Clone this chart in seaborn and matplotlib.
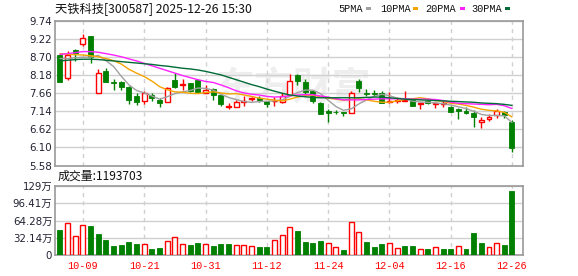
import numpy as np
import pandas as pd
import matplotlib
matplotlib.use("Agg")
import matplotlib.pyplot as plt
import seaborn as sns
from matplotlib.patches import Rectangle

# ---------------- data ----------------
dates = ["09-26", "09-29", "09-30", "10-09", "10-10", "10-13", "10-14", "10-15", "10-16", "10-17",
         "10-20", "10-21", "10-22", "10-23", "10-24", "10-27", "10-28", "10-29", "10-30", "10-31",
         "11-03", "11-04", "11-05", "11-06", "11-07", "11-10", "11-11", "11-12", "11-13", "11-14",
         "11-17", "11-18", "11-19", "11-20", "11-21", "11-24", "11-25", "11-26", "11-27", "11-28",
         "12-01", "12-02", "12-03", "12-04", "12-05", "12-08", "12-09", "12-10", "12-11", "12-12",
         "12-15", "12-16", "12-17", "12-18", "12-19", "12-22", "12-23", "12-24", "12-25", "12-26"]

opens = [8.75, 8.11, 8.90, 9.07, 9.31, 7.68, 8.30, 7.98, 7.99, 7.85,
         7.58, 7.45, 7.61, 7.48, 7.40, 8.04, 7.91, 7.95, 8.04, 7.67,
         7.79, 7.61, 7.27, 7.27, 7.41, 7.49, 7.51, 7.44, 7.43, 7.42,
         7.61, 8.18, 7.99, 7.73, 7.39, 7.16, 7.13, 7.11, 7.10, 8.02,
         7.66, 7.66, 7.68, 7.42, 7.44, 7.44, 7.46, 7.35, 7.44, 7.36,
         7.36, 7.27, 7.21, 7.16, 7.08, 6.83, 6.91, 7.04, 7.11, 6.84]
closes = [7.99, 8.75, 8.82, 9.26, 8.70, 8.23, 7.99, 7.96, 7.85, 7.46,
          7.42, 7.66, 7.53, 7.37, 7.82, 7.85, 7.94, 7.73, 7.70, 7.76,
          7.61, 7.36, 7.29, 7.40, 7.43, 7.51, 7.46, 7.34, 7.45, 7.59,
          8.02, 8.01, 7.70, 7.45, 7.06, 7.08, 7.12, 7.10, 7.67, 7.80,
          7.65, 7.64, 7.39, 7.45, 7.47, 7.46, 7.30, 7.38, 7.37, 7.38,
          7.37, 7.12, 7.14, 7.10, 6.99, 6.89, 6.98, 7.15, 7.02, 6.07]
highs = [8.76, 8.87, 8.94, 9.37, 9.32, 8.37, 8.40, 8.07, 8.00, 7.87,
         7.66, 7.72, 7.66, 7.53, 7.83, 8.25, 8.06, 7.96, 8.07, 7.91,
         7.81, 7.61, 7.39, 7.46, 7.58, 7.56, 7.59, 7.45, 7.56, 7.66,
         8.21, 8.21, 8.06, 7.75, 7.42, 7.20, 7.18, 7.13, 7.73, 8.06,
         7.77, 7.75, 7.73, 7.69, 7.56, 7.73, 7.47, 7.40, 7.46, 7.42,
         7.44, 7.30, 7.23, 7.27, 7.18, 6.99, 7.05, 7.21, 7.15, 6.88]
lows = [7.99, 8.04, 8.58, 9.01, 8.54, 7.68, 7.99, 7.76, 7.75, 7.35,
        7.32, 7.35, 7.45, 7.27, 7.40, 7.80, 7.75, 7.70, 7.68, 7.66,
        7.46, 7.30, 7.20, 7.25, 7.30, 7.44, 7.42, 7.25, 7.30, 7.37,
        7.58, 7.89, 7.65, 7.39, 7.06, 6.84, 7.06, 7.00, 7.08, 7.70,
        7.58, 7.58, 7.37, 7.37, 7.37, 7.43, 7.30, 7.21, 7.34, 7.23,
        7.25, 7.12, 6.92, 7.05, 6.70, 6.67, 6.87, 6.94, 6.94, 5.96]

ma5 = [8.66, 8.66, 8.68, 8.70, 8.70, 8.75, 8.60, 8.43, 8.15, 7.90,
       7.74, 7.67, 7.58, 7.49, 7.56, 7.65, 7.70, 7.74, 7.81, 7.80,
       7.75, 7.63, 7.54, 7.48, 7.42, 7.40, 7.42, 7.43, 7.44, 7.47,
       7.57, 7.68, 7.75, 7.75, 7.65, 7.46, 7.28, 7.17, 7.21, 7.35,
       7.47, 7.57, 7.63, 7.59, 7.52, 7.50, 7.43, 7.41, 7.40, 7.38,
       7.36, 7.32, 7.27, 7.22, 7.14, 7.05, 7.02, 7.02, 7.01, 6.82]
ma10 = [8.80, 8.78, 8.77, 8.76, 8.74, 8.71, 8.66, 8.60, 8.50, 8.35,
        8.24, 8.14, 8.01, 7.85, 7.76, 7.70, 7.69, 7.66, 7.65, 7.68,
        7.70, 7.67, 7.64, 7.65, 7.61, 7.57, 7.52, 7.49, 7.46, 7.44,
        7.49, 7.55, 7.59, 7.60, 7.56, 7.52, 7.49, 7.46, 7.48, 7.50,
        7.47, 7.43, 7.40, 7.40, 7.44, 7.48, 7.50, 7.53, 7.50, 7.45,
        7.43, 7.37, 7.35, 7.31, 7.26, 7.20, 7.17, 7.15, 7.11, 6.98]
ma20 = [8.78, 8.80, 8.83, 8.86, 8.86, 8.84, 8.80, 8.76, 8.71, 8.65,
        8.59, 8.52, 8.45, 8.38, 8.31, 8.24, 8.17, 8.11, 8.05, 8.00,
        7.97, 7.90, 7.82, 7.73, 7.67, 7.63, 7.61, 7.57, 7.55, 7.56,
        7.59, 7.61, 7.62, 7.62, 7.58, 7.55, 7.50, 7.47, 7.47, 7.47,
        7.48, 7.49, 7.50, 7.50, 7.50, 7.50, 7.49, 7.49, 7.49, 7.48,
        7.45, 7.40, 7.37, 7.36, 7.35, 7.34, 7.33, 7.34, 7.30, 7.22]
ma30 = [8.59, 8.61, 8.63, 8.64, 8.64, 8.63, 8.61, 8.59, 8.57, 8.55,
        8.53, 8.51, 8.49, 8.46, 8.44, 8.41, 8.38, 8.36, 8.33, 8.29,
        8.24, 8.19, 8.12, 8.05, 7.98, 7.91, 7.85, 7.78, 7.72, 7.66,
        7.61, 7.58, 7.56, 7.54, 7.53, 7.53, 7.53, 7.53, 7.53, 7.53,
        7.54, 7.55, 7.55, 7.53, 7.51, 7.49, 7.48, 7.47, 7.46, 7.45,
        7.44, 7.43, 7.42, 7.41, 7.40, 7.38, 7.37, 7.36, 7.34, 7.31]

# volume in 万 (10k) and direction of the bar (u = up day, d = down day)
volumes = [46.6, 59.0, 35.4, 55.2, 54.0, 39.1, 27.9, 16.8, 18.6, 24.2,
           20.5, 19.9, 11.2, 13.0, 25.5, 32.9, 19.9, 18.6, 22.3, 19.9,
           16.8, 20.5, 20.5, 18.0, 18.0, 16.8, 14.9, 14.9, 27.9, 36.6,
           51.5, 44.7, 24.2, 22.3, 26.1, 21.7, 14.3, 9.3, 60.8, 42.2,
           24.2, 14.9, 20.5, 21.7, 12.4, 16.8, 16.8, 10.6, 11.2, 14.3,
           11.2, 11.2, 16.1, 11.2, 41.0, 21.7, 14.3, 21.7, 18.0, 119.37]
vol_dir = ["d", "u", "u", "u", "d", "d", "d", "d", "d", "d",
           "d", "u", "d", "d", "u", "u", "u", "d", "d", "u",
           "d", "d", "d", "u", "u", "u", "d", "d", "u", "u",
           "u", "d", "d", "d", "d", "u", "u", "d", "u", "u",
           "d", "d", "d", "u", "u", "d", "d", "u", "d", "u",
           "d", "d", "u", "d", "d", "d", "u", "u", "d", "d"]

price_ticks = [9.74, 9.22, 8.70, 8.18, 7.66, 7.14, 6.62, 6.10, 5.58]
vol_ticks = [0, 32.14, 64.28, 96.41, 128.56]
vol_tick_labels = ["0", "32.14万", "64.28万", "96.41万", "129万"]
date_ticks = ["10-09", "10-21", "10-31", "11-12", "11-24", "12-04", "12-16", "12-26"]

title = "天铁科技[300587] 2025-12-26 15:30"
vol_title = "成交量:1193703"
ma_names = ["5PMA", "10PMA", "20PMA", "30PMA"]
watermark = "东方财富"

# ---------------- style ----------------
sns.set_theme(style="white")
plt.rcParams["font.family"] = ["DejaVu Sans", "Noto Sans CJK SC"]

RED = "#ff0000"
GREEN = "#008000"
MA_COLORS = ["#a0a0a0", "#f5a400", "#ff20ff", "#006b36"]
GRID = "#d0d0d0"
BORDER = "#999999"

W, H = 578, 276
fig = plt.figure(figsize=(W / 100, H / 100), dpi=100)
fig.patch.set_facecolor("white")


def rect(l, t, r, b):
    return [l / W, 1 - b / H, (r - l) / W, (b - t) / H]


ax = fig.add_axes(rect(55, 21, 522.7, 165.5))
axv = fig.add_axes(rect(55, 186, 522.7, 255))

df = pd.DataFrame({"date": dates, "open": opens, "close": closes, "high": highs, "low": lows,
                   "ma5": ma5, "ma10": ma10, "ma20": ma20, "ma30": ma30,
                   "vol": volumes, "dir": vol_dir})
df["x"] = np.arange(len(df))
BW = 0.65

# faint watermark behind the candles
ax.text(30.5, 7.78, watermark, fontsize=28, color="#eeeeee", ha="center", va="center",
        family=["Noto Sans CJK SC"], fontweight="bold", zorder=0.5)

# candles
for _, r in df.iterrows():
    up = r["close"] >= r["open"]
    col = RED if up else GREEN
    ax.vlines(r["x"], r["low"], r["high"], color=col, lw=1, zorder=2)
    lo = min(r["open"], r["close"])
    h = max(abs(r["close"] - r["open"]), 0.012)
    if up:
        ax.bar(r["x"], h, bottom=lo, width=BW, facecolor="white", edgecolor=col, lw=1, zorder=3)
    else:
        ax.bar(r["x"], h, bottom=lo, width=BW, facecolor=col, edgecolor=col, lw=0.6, zorder=3)

# moving averages
for name, c in zip(["ma5", "ma10", "ma20", "ma30"], MA_COLORS):
    sns.lineplot(data=df, x="x", y=name, ax=ax, color=c, lw=1, legend=False, zorder=4)

# volume bars
for _, r in df.iterrows():
    if r["dir"] == "u":
        axv.bar(r["x"], r["vol"], width=BW, facecolor="white", edgecolor=RED, lw=1, zorder=3)
    else:
        axv.bar(r["x"], r["vol"], width=BW, facecolor=GREEN, edgecolor=GREEN, lw=0.6, zorder=3)

xt = [dates.index(d) for d in date_ticks]
for a in (ax, axv):
    a.set_xlim(-0.65, 60.4)
    a.set_xticks(xt)
    a.set_facecolor("white")
    a.xaxis.grid(True, linestyle=(0, (3, 3)), color=GRID, lw=1)
    a.yaxis.grid(True, linestyle="-", color=GRID, lw=1)
    a.set_axisbelow(True)
    for s in a.spines.values():
        s.set_visible(True)
        s.set_color(BORDER)
        s.set_linewidth(1.2)
    a.tick_params(length=0, pad=2)
    a.set_xlabel("")
    a.set_ylabel("")

ax.set_ylim(5.58, 9.74)
ax.set_yticks(price_ticks)
ax.set_yticklabels([f"{v:.2f}" for v in price_ticks], fontsize=7.4, color="#222233")
ax.set_xticklabels([])

axv.set_ylim(0, 128.56)
axv.set_yticks(vol_ticks)
axv.set_yticklabels(vol_tick_labels, fontsize=7.4, color="#222233")
axv.set_xticklabels(date_ticks, fontsize=7.3, color=RED, family=["Liberation Mono"])
axv.tick_params(axis="x", pad=4)

# title, volume caption
fig.text(55 / W, 1 - 9.5 / H, title, fontsize=8.8, va="center", ha="left",
         family=["Noto Sans CJK SC"], color="#111111")
fig.text(58 / W, 1 - 176.5 / H, vol_title, fontsize=8.6, va="center", ha="left",
         family=["Noto Sans CJK SC"], color="#111111")

# legend row
leg_x = [338, 380, 425.7, 471.7]
sq_x = [366, 412.7, 460, 505.3]
for name, lx, sx, c in zip(ma_names, leg_x, sq_x, MA_COLORS):
    fig.text(lx / W, 1 - 9 / H, name, fontsize=7.4, va="center", ha="left",
             family=["Liberation Mono"], color="#111111")
    fig.patches.append(Rectangle((sx / W, 1 - 10.3 / H), 5 / W, 3 / H,
                                 transform=fig.transFigure, facecolor=c, edgecolor="none"))

fig.savefig("out.png", dpi=100, facecolor="white")
